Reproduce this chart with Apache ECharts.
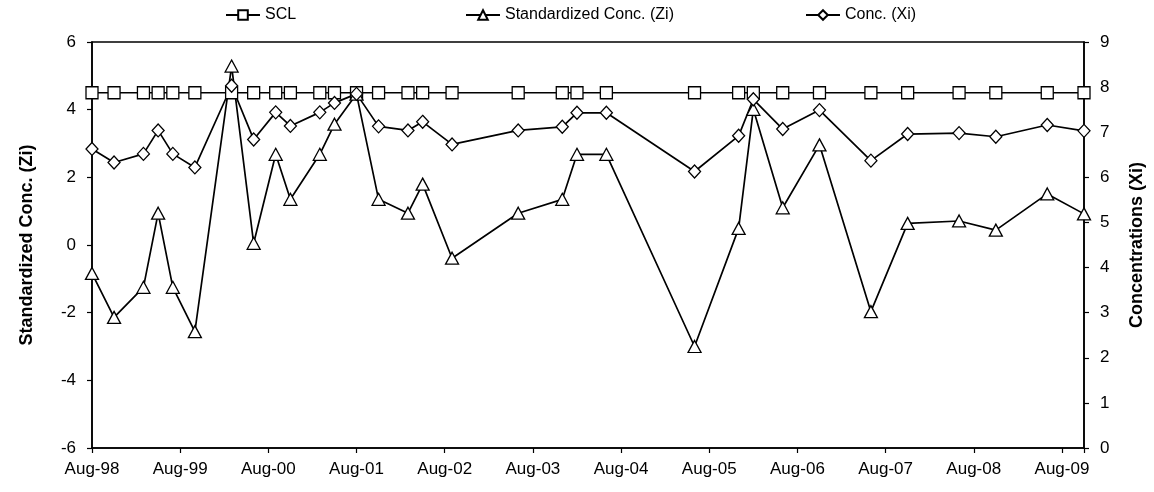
<!DOCTYPE html>
<html>
<head>
<meta charset="utf-8">
<script src="https://cdn.jsdelivr.net/npm/echarts@6/dist/echarts.min.js"></script>
<style>
  html, body { margin: 0; padding: 0; background: #fff; }
  #chart { width: 1154px; height: 492px; }
</style>
</head>
<body>
<div id="chart"></div>
<script>
// sampling dates (year-month)
const dates = [
  '1998-08', '1998-11', '1999-03', '1999-05', '1999-07', '1999-10',
  '2000-03', '2000-06', '2000-09', '2000-11', '2001-03', '2001-05',
  '2001-08', '2001-11', '2002-03', '2002-05', '2002-09', '2003-06',
  '2003-12', '2004-02', '2004-06', '2005-06', '2005-12', '2006-02',
  '2006-06', '2006-11', '2007-06', '2007-11', '2008-06', '2008-11',
  '2009-06', '2009-11'
];
const zi = [
  -0.84, -2.14, -1.25, 0.94, -1.25, -2.56,
  5.29, 0.05, 2.68, 1.35, 2.68, 3.57,
  4.46, 1.35, 0.94, 1.80, -0.39, 0.94,
  1.35, 2.68, 2.68, -3.00, 0.49, 4.01,
  1.10, 2.96, -1.97, 0.64, 0.71, 0.44,
  1.51, 0.92
];
const xi = [
  6.63, 6.33, 6.52, 7.04, 6.52, 6.22,
  8.03, 6.84, 7.44, 7.14, 7.44, 7.65,
  7.85, 7.13, 7.04, 7.23, 6.73, 7.04,
  7.12, 7.43, 7.43, 6.13, 6.92, 7.73,
  7.07, 7.49, 6.37, 6.96, 6.98, 6.90,
  7.16, 7.03
];
const scl = 4.5;
const xTickLabels = ['Aug-98', 'Aug-99', 'Aug-00', 'Aug-01', 'Aug-02', 'Aug-03',
  'Aug-04', 'Aug-05', 'Aug-06', 'Aug-07', 'Aug-08', 'Aug-09'];

// months counted from Aug-98
const months = dates.map((d) => {
  const [y, m] = d.split('-').map(Number);
  return (y - 1998) * 12 + (m - 8);
});

const font = 'Liberation Sans, Arial, sans-serif';
const markStyle = { color: '#fff', borderColor: '#000', borderWidth: 1.3 };
const lineStyle = { color: '#000', width: 1.7 };
const axisLine = { show: true, onZero: false, lineStyle: { color: '#000', width: 1.6 } };
const axisTick = { show: true, length: 5, lineStyle: { color: '#000', width: 1.2 } };

const chart = echarts.init(document.getElementById('chart'), null, { renderer: 'canvas' });

const legendBase = {
  top: 2,
  itemWidth: 34,
  itemHeight: 12,
  itemGap: 4,
  textStyle: { fontFamily: font, fontSize: 16, color: '#000' }
};

chart.setOption({
  animation: false,
  backgroundColor: '#fff',
  legend: [
    Object.assign({ left: 220, data: ['SCL'] }, legendBase),
    Object.assign({ left: 460, data: ['Standardized Conc. (Zi)'] }, legendBase),
    Object.assign({ left: 800, data: ['Conc. (Xi)'] }, legendBase)
  ],
  grid: {
    left: 92, right: 64, top: 42, bottom: 44,
    show: true, borderColor: '#000', borderWidth: 1.5
  },
  xAxis: {
    type: 'value',
    min: 0,
    max: months[months.length - 1],
    interval: 12,
    splitLine: { show: false },
    axisLine: axisLine,
    axisTick: axisTick,
    axisLabel: {
      fontFamily: font, fontSize: 17, color: '#000', margin: 13,
      formatter: (v) => (v % 12 === 0 ? xTickLabels[v / 12] || '' : '')
    }
  },
  yAxis: [
    {
      type: 'value',
      min: -6, max: 6, interval: 2,
      name: 'Standardized Conc. (Zi)',
      nameLocation: 'middle',
      nameGap: 56,
      nameTextStyle: { fontFamily: font, fontSize: 18, fontWeight: 'bold', color: '#000' },
      splitLine: { show: false },
      axisLine: axisLine,
      axisTick: axisTick,
      axisLabel: { fontFamily: font, fontSize: 17, color: '#000', margin: 16 }
    },
    {
      type: 'value',
      min: 0, max: 9, interval: 1,
      name: 'Concentrations (Xi)',
      nameLocation: 'middle',
      nameGap: 44,
      nameRotate: 90,
      nameTextStyle: { fontFamily: font, fontSize: 18, fontWeight: 'bold', color: '#000' },
      splitLine: { show: false },
      axisLine: axisLine,
      axisTick: axisTick,
      axisLabel: { fontFamily: font, fontSize: 17, color: '#000', margin: 16 }
    }
  ],
  series: [
    {
      name: 'SCL',
      type: 'line',
      yAxisIndex: 0,
      data: months.map((m) => [m, scl]),
      symbol: 'rect',
      symbolSize: 12,
      itemStyle: markStyle,
      lineStyle: lineStyle
    },
    {
      name: 'Standardized Conc. (Zi)',
      type: 'line',
      yAxisIndex: 0,
      data: months.map((m, i) => [m, zi[i]]),
      symbol: 'triangle',
      symbolSize: [13, 12],
      itemStyle: markStyle,
      lineStyle: lineStyle
    },
    {
      name: 'Conc. (Xi)',
      type: 'line',
      yAxisIndex: 1,
      data: months.map((m, i) => [m, xi[i]]),
      symbol: 'diamond',
      symbolSize: [12, 13],
      itemStyle: markStyle,
      lineStyle: lineStyle
    }
  ]
});
</script>
</body>
</html>
